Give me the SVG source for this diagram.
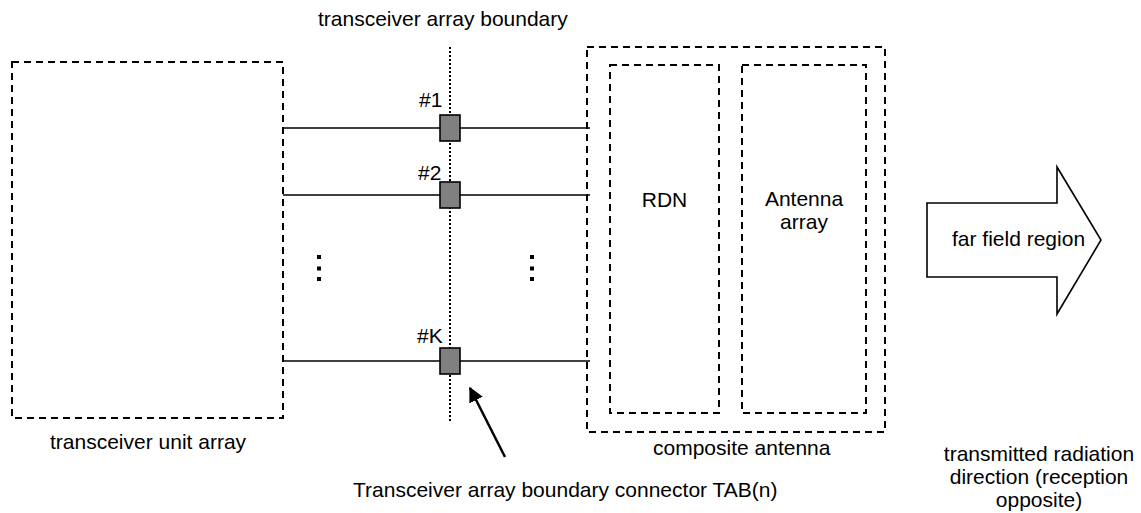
<svg xmlns="http://www.w3.org/2000/svg" width="1141" height="513" viewBox="0 0 1141 513">
<style>
text{font-family:"Liberation Sans",Arial,sans-serif;font-size:21px;fill:#000}
.dash{fill:none;stroke:#000;stroke-width:2;stroke-dasharray:7,5}
.wire{stroke:#000;stroke-width:1.4;fill:none}
.tab{fill:#808080;stroke:#000;stroke-width:1.6}
.dot{fill:#000}
</style>
<defs>
<marker id="ah" viewBox="0 0 10 10" refX="9" refY="5" markerWidth="6" markerHeight="6" markerUnits="strokeWidth" orient="auto">
<path d="M0,0 L10,5 L0,10 z" fill="#000"/>
</marker>
</defs>
<rect width="1141" height="513" fill="#fff"/>
<g id="boundary-line">
<line x1="450" y1="47" x2="450" y2="422" stroke="#000" stroke-width="2" stroke-dasharray="2,2"/>
<text x="318" y="26">transceiver array boundary</text>
</g>
<g id="connectors">
<line class="wire" x1="283" y1="128" x2="590" y2="128"/>
<line class="wire" x1="283" y1="195" x2="590" y2="195"/>
<line class="wire" x1="283" y1="361" x2="590" y2="361"/>
<line x1="505" y1="457" x2="470" y2="388" stroke="#000" stroke-width="2.5" marker-end="url(#ah)"/>
</g>
<g id="transceiver-unit-array">
<rect class="dash" x="12" y="62" width="271" height="356"/>
<text x="50" y="449">transceiver unit array</text>
</g>
<g id="tab1">
<rect class="tab" x="440" y="115" width="20" height="26"/>
<text x="419" y="107">#1</text>
</g>
<g id="tab2">
<rect class="tab" x="440" y="182" width="20" height="26"/>
<text x="418" y="180">#2</text>
</g>
<g id="tabK">
<rect class="tab" x="440" y="348" width="20" height="26"/>
<text x="417" y="343">#K</text>
</g>
<g id="ellipsis-left">
<rect class="dot" x="317" y="255" width="4" height="4"/>
<rect class="dot" x="317" y="266.5" width="4" height="4"/>
<rect class="dot" x="317" y="277" width="4" height="4"/>
</g>
<g id="ellipsis-right">
<rect class="dot" x="530" y="255" width="4" height="4"/>
<rect class="dot" x="530" y="266.5" width="4" height="4"/>
<rect class="dot" x="530" y="277" width="4" height="4"/>
</g>
<g id="composite-antenna">
<rect class="dash" x="587" y="47" width="298" height="385"/>
<text x="653" y="455">composite antenna</text>
</g>
<g id="rdn">
<rect class="dash" x="610" y="65" width="109" height="348"/>
<text x="664.5" y="207" text-anchor="middle">RDN</text>
</g>
<g id="antenna-array">
<rect class="dash" x="742" y="65" width="124" height="348"/>
<text x="804" y="206" text-anchor="middle">Antenna</text>
<text x="804" y="229" text-anchor="middle">array</text>
</g>
<g id="far-field-region">
<polygon points="927,203 1057,203 1057,167 1101,240 1057,314 1057,277 927,277" fill="#fff" stroke="#000" stroke-width="1.6"/>
<text x="952" y="246">far field region</text>
</g>
<g id="tab-label">
<text x="353" y="497">Transceiver array boundary connector TAB(n)</text>
</g>
<g id="direction-label">
<text x="1039" y="461" text-anchor="middle">transmitted radiation</text>
<text x="1039" y="484" text-anchor="middle">direction (reception</text>
<text x="1039" y="507" text-anchor="middle">opposite)</text>
</g>
</svg>
